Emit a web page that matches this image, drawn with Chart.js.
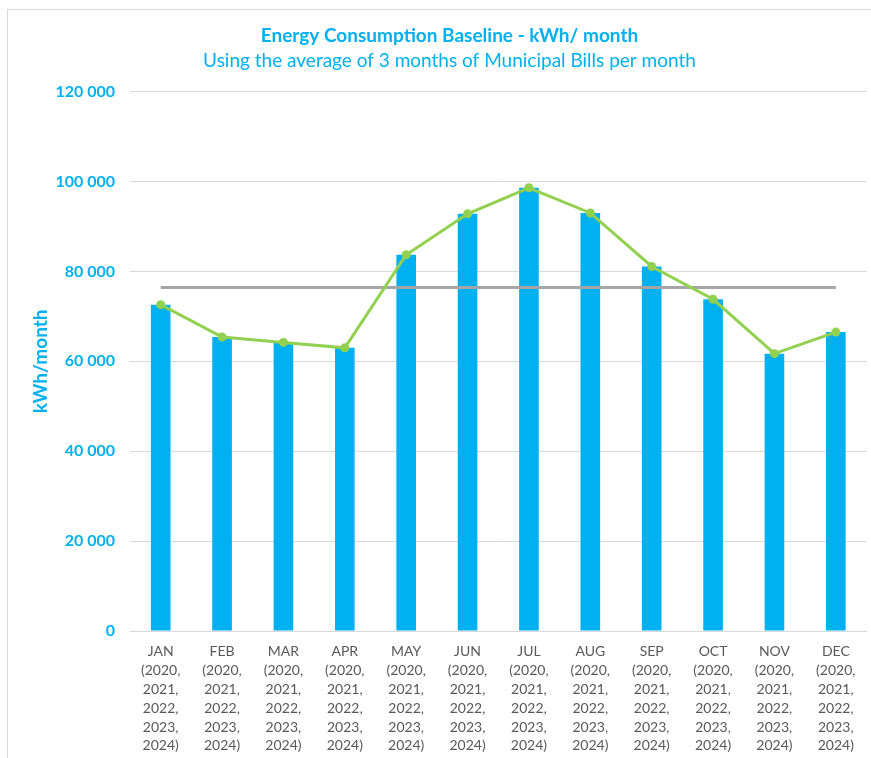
<!doctype html>
<html lang="en">
<head>
<meta charset="utf-8">
<title>Energy Consumption Baseline</title>
<script src="https://cdn.jsdelivr.net/npm/chart.js@4.4.1/dist/chart.umd.min.js"></script>
<style>
  html, body { margin: 0; padding: 0; background: #fff; overflow: hidden; }
  #frame { position: absolute; left: 7px; top: 9px; width: 900px; height: 800px;
           border-left: 1px solid #d9d9d9; border-top: 1px solid #d9d9d9; }
  #wrap { position: absolute; left: 0; top: 0; width: 871px; height: 758px; }
</style>
</head>
<body>
<div id="frame"></div>
<div id="wrap"><canvas id="myChart"></canvas></div>

<script>
// month labels (multi-line, as in the original)
var months = ["JAN", "FEB", "MAR", "APR", "MAY", "JUN", "JUL", "AUG", "SEP", "OCT", "NOV", "DEC"];
var years = ["(2020,", "2021,", "2022,", "2023,", "2024)"];

// average kWh per month
var monthlyKwh = [72600, 65400, 64200, 63000, 83700, 92800, 98600, 93000, 81100, 73800, 61700, 66500];
// baseline (yearly average) line
var baselineKwh = [76400, 76400, 76400, 76400, 76400, 76400, 76400, 76400, 76400, 76400, 76400, 76400];

var yTicks = [0, 20000, 40000, 60000, 80000, 100000, 120000];

var labels = months.map(function (m) { return [m].concat(years); });

var blue = "#00B0F0";
var green = "#92D050";
var grey = "#A5A5A5";
var fontFam = "Lato, 'Open Sans', sans-serif";

var ctx = document.getElementById("myChart").getContext("2d");
var myChart = new Chart(ctx, {
  type: "bar",
  data: {
    labels: labels,
    datasets: [{
      type: "line",
      label: "Monthly",
      data: monthlyKwh,
      borderColor: green,
      backgroundColor: green,
      borderWidth: 3,
      pointRadius: 4.5,
      pointBorderWidth: 0,
      tension: 0,
      order: 0
    }, {
      type: "line",
      label: "Baseline",
      data: baselineKwh,
      borderColor: grey,
      borderWidth: 3,
      pointRadius: 0,
      order: 1
    }, {
      label: "kWh/month",
      data: monthlyKwh,
      backgroundColor: blue,
      borderWidth: 0,
      categoryPercentage: 0.8,
      barPercentage: 0.4,
      order: 2
    }]
  },
  options: {
    responsive: true,
    maintainAspectRatio: false,
    animation: false,
    // left padding shifts the centred titles right, like the original
    layout: { padding: { left: 28, right: 0, top: 0, bottom: 0 } },
    plugins: {
      legend: { display: false },
      tooltip: { enabled: false },
      title: {
        display: true,
        text: "Energy Consumption Baseline - kWh/ month",
        color: blue,
        font: { family: fontFam, size: 19, weight: "bold" },
        padding: { top: 24, bottom: 0 }
      },
      subtitle: {
        display: true,
        text: "Using the average of 3 months of Municipal Bills per month",
        color: blue,
        font: { family: fontFam, size: 19, weight: "normal" },
        padding: { top: 3, bottom: 19 }
      }
    },
    scales: {
      x: {
        grid: { display: false, drawTicks: false },
        border: { display: true, color: "#d9d9d9" },
        ticks: {
          color: "#595959",
          font: { family: fontFam, size: 14, lineHeight: 1.35 },
          padding: 11,
          maxRotation: 0,
          autoSkip: false
        },
        afterFit: function (scale) { scale.height = 127; }
      },
      y: {
        min: 0,
        max: 120000,
        afterBuildTicks: function (scale) {
          scale.ticks = yTicks.map(function (v) { return { value: v }; });
        },
        grid: { color: "#d9d9d9", drawTicks: false },
        border: { display: false },
        ticks: {
          color: blue,
          font: { family: fontFam, size: 16, weight: "bold" },
          padding: 15,
          callback: function (v) {
            return String(v).replace(/\B(?=(\d{3})+(?!\d))/g, " ");
          }
        },
        title: {
          display: true,
          text: "kWh/month",
          color: blue,
          font: { family: fontFam, size: 19, weight: "bold" },
          padding: { top: 1, bottom: 0 }
        },
        afterFit: function (scale) { scale.width = 102; }
      }
    }
  }
});
</script>
</body>
</html>
